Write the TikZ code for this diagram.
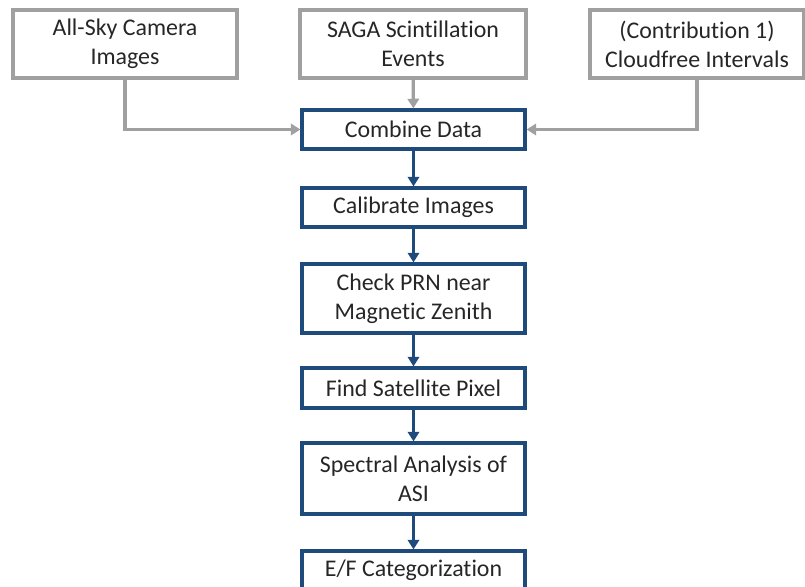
\documentclass[tikz,border=0pt]{standalone}
\usepackage{fontspec}
\setmainfont{Carlito}[Ligatures=NoCommon]
\usepackage{xcolor}
\usetikzlibrary{arrows.meta}
\definecolor{stepblue}{HTML}{1F4A7C}
\definecolor{srcgray}{HTML}{A0A0A0}

\begin{document}
\begin{tikzpicture}[x=0.02cm, y=-0.02cm, font=\fontsize{13.6}{16.5}\selectfont,
  nd/.style={draw, align=center, line width=1.8pt, inner sep=2pt, text=black!85},
  src/.style={nd, draw=srcgray, minimum height=1.36cm},
  stepbox/.style={nd, draw=stepblue, minimum width=4.46cm},
  feed/.style={srcgray, line width=1.8pt, -{Triangle[width=6.5pt, length=5.5pt]}},
  flow/.style={stepblue, line width=1.8pt, -{Triangle[width=6.5pt, length=5.5pt]}}]
  \useasboundingbox (0,0) rectangle (805,587);
  % input boxes
  \node[src, minimum width=4.48cm] (asc) at (125,44) {All-Sky Camera\\Images};
  \node[src, minimum width=4.52cm] (saga) at (413,44) {SAGA Scintillation\\Events};
  \node[src, minimum width=4.28cm] (cloud) at (697,44) {(Contribution 1)\\Cloudfree Intervals};
  % processing steps
  \node[stepbox, minimum height=0.78cm] (combine) at (413.5,129.5) {Combine Data};
  \node[stepbox, minimum height=0.78cm] (calib) at (413.5,207.5) {Calibrate Images};
  \node[stepbox, minimum height=1.38cm] (prn) at (413.5,298.5) {Check PRN near\\Magnetic Zenith};
  \node[stepbox, minimum height=0.80cm] (pixel) at (413.5,388) {Find Satellite Pixel};
  \node[stepbox, minimum height=1.42cm] (spec) at (413.5,478.5) {Spectral Analysis of\\ASI};
  \node[stepbox, minimum height=0.78cm] (ef) at (413.5,570.5) {E/F Categorization};
  % inputs into combine
  \draw[feed] (asc.south) |- (combine.west);
  \draw[feed] (saga) -- (combine);
  \draw[feed] (cloud.south) |- (combine.east);
  % chain
  \draw[flow] (combine) -- (calib);
  \draw[flow] (calib) -- (prn);
  \draw[flow] (prn) -- (pixel);
  \draw[flow] (pixel) -- (spec);
  \draw[flow] (spec) -- (ef);
\end{tikzpicture}
\end{document}
